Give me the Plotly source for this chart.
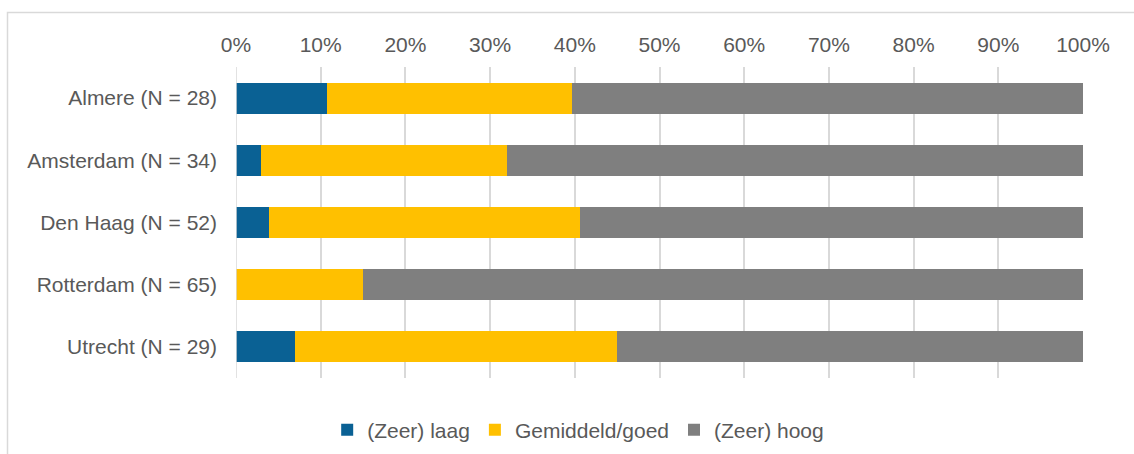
import plotly.graph_objects as go

categories = ["Almere (N = 28)", "Amsterdam (N = 34)", "Den Haag (N = 52)",
              "Rotterdam (N = 65)", "Utrecht (N = 29)"]
laag = [10.8, 3.0, 3.9, 0.0, 7.0]
gemiddeld = [28.9, 29.0, 36.7, 15.0, 38.0]
hoog = [60.3, 68.0, 59.4, 85.0, 55.0]
series_names = ["(Zeer) laag", "Gemiddeld/goed", "(Zeer) hoog"]
tick_vals = [0, 10, 20, 30, 40, 50, 60, 70, 80, 90, 100]
tick_text = [f"{v}%" for v in tick_vals]

colors = ["#0A6194", "#FFC000", "#7F7F7F"]
FONT = "Liberation Sans, Arial, sans-serif"
TXT = "#595959"

fig = go.Figure()
for name, vals, col in zip(series_names, [laag, gemiddeld, hoog], colors):
    fig.add_trace(go.Bar(
        y=categories, x=vals, name=name, orientation="h",
        marker=dict(color=col, line=dict(width=0)),
        width=0.5,
    ))

fig.update_layout(
    barmode="stack",
    width=1134, height=454,
    margin=dict(l=236, r=51, t=67, b=76, autoexpand=False),
    paper_bgcolor="white", plot_bgcolor="white",
    font=dict(family=FONT, size=21, color=TXT),
    showlegend=True,
    legend=dict(orientation="h", x=0.404, xanchor="center",
                yref="container", y=1 - 430 / 454, yanchor="middle",
                font=dict(size=21, color=TXT),
                traceorder="normal", bgcolor="rgba(0,0,0,0)"),
    xaxis=dict(side="top", range=[0, 100], tickvals=tick_vals, ticktext=tick_text,
               showgrid=True, gridcolor="#D9D9D9", gridwidth=1.5,
               zeroline=False, showline=False, ticks="",
               ticklabelstandoff=10, fixedrange=True, automargin=False),
    yaxis=dict(categoryorder="array", categoryarray=categories[::-1],
               showgrid=False, zeroline=False, showline=False, ticks="",
               ticklabelstandoff=18, fixedrange=True, automargin=False),
    shapes=[
        dict(type="line", xref="x", yref="paper", x0=0, x1=0, y0=0, y1=1,
             line=dict(color="#D9D9D9", width=1.5), layer="above"),
        dict(type="rect", xref="paper", yref="paper",
             x0=(7.5 - 236) / 847, x1=(1140 - 236) / 847,
             y0=-0.5, y1=1 + (67 - 12.5) / 311,
             line=dict(color="#D9D9D9", width=1.5), layer="below"),
    ],
)

fig.write_html("out.html", config={"displayModeBar": False},
               post_script="document.body.style.margin='0px';document.body.style.overflow='hidden';")
